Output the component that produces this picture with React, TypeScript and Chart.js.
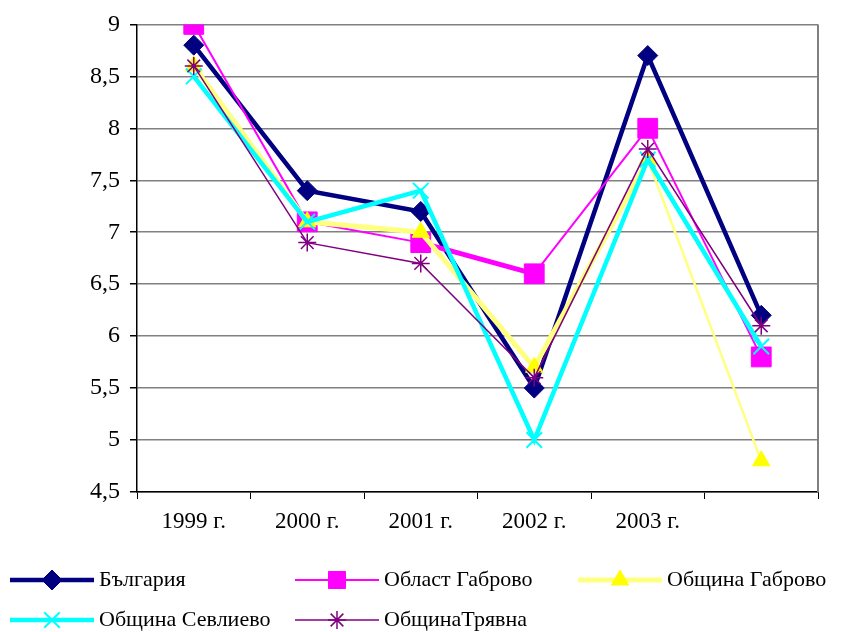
import React, { useEffect, useRef } from 'react';
import { Chart, registerables } from 'chart.js';
import { drawPoint } from 'chart.js/helpers';

Chart.register(...registerables);

const categories = ['1999 г.', '2000 г.', '2001 г.', '2002 г.', '2003 г.', ''];
const bulgaria = [8.8, 7.4, 7.2, 5.5, 8.7, 6.2];
const oblastGabrovo = [9.0, 7.1, 6.9, 6.6, 8.0, 5.8];
const obshtinaGabrovo = [8.6, 7.1, 7.0, 5.7, 7.7, 4.8];
const obshtinaSevlievo = [8.5, 7.1, 7.4, 5.0, 7.7, 5.9];
const obshtinaTryavna = [8.6, 6.9, 6.7, 5.6, 7.8, 6.1];
const seriesNames = ['България', 'Област Габрово', 'Община Габрово', 'Община Севлиево', 'ОбщинаТрявна'];
const yMin = 4.5;
const yMax = 9;
const yStep = 0.5;

const FONT = 'Liberation Serif, Times New Roman, serif';

type Style = {
  line: string;
  marker: string;
  pointStyle: any;
  radius: number;
  markerBorder: number;
  segWidths: number[];
  legendWidth: number;
};

const styles: Style[] = [
  { line: '#000080', marker: '#000080', pointStyle: 'rectRot', radius: 10, markerBorder: 1, segWidths: [4.5, 4.5, 4.5, 4.5, 4.5], legendWidth: 4.5 },
  { line: '#FF00FF', marker: '#FF00FF', pointStyle: 'rect', radius: 14, markerBorder: 1, segWidths: [2, 2, 5, 2, 2], legendWidth: 2 },
  { line: '#FFFF80', marker: '#FFFF00', pointStyle: 'triangle', radius: 10, markerBorder: 1, segWidths: [5, 5, 5, 5, 2.5], legendWidth: 5 },
  { line: '#00FFFF', marker: '#00FFFF', pointStyle: 'crossRot', radius: 11, markerBorder: 2, segWidths: [4.5, 4.5, 4.5, 4.5, 4.5], legendWidth: 4.5 },
  { line: '#800080', marker: '#800080', pointStyle: 'star', radius: 9, markerBorder: 1.5, segWidths: [1.5, 1.5, 1.5, 1.5, 1.5], legendWidth: 1.5 },
];

const seriesData = [bulgaria, oblastGabrovo, obshtinaGabrovo, obshtinaSevlievo, obshtinaTryavna];

const legendPos = [
  { x: 10, y: 580 },
  { x: 295, y: 580 },
  { x: 578, y: 580 },
  { x: 10, y: 620 },
  { x: 295, y: 620 },
];

const extrasPlugin = {
  id: 'extras',
  afterDraw(chart: any) {
    const ctx = chart.ctx as CanvasRenderingContext2D;
    const a = chart.chartArea;
    ctx.save();
    ctx.strokeStyle = '#808080';
    ctx.lineWidth = 2;
    ctx.beginPath();
    ctx.moveTo(a.right, a.top);
    ctx.lineTo(a.right, a.bottom);
    ctx.stroke();

    // legend
    seriesNames.forEach((name, i) => {
      const s = styles[i];
      const p = legendPos[i];
      ctx.strokeStyle = s.line;
      ctx.lineWidth = s.legendWidth;
      ctx.beginPath();
      ctx.moveTo(p.x, p.y);
      ctx.lineTo(p.x + 84, p.y);
      ctx.stroke();
      ctx.fillStyle = s.marker;
      ctx.strokeStyle = s.marker;
      ctx.lineWidth = s.markerBorder;
      drawPoint(ctx, { pointStyle: s.pointStyle, radius: s.pointStyle === 'rect' ? 12 : s.radius, rotation: 0, borderWidth: s.markerBorder }, p.x + 42, p.y);
      ctx.fillStyle = '#000';
      ctx.font = `22px ${FONT}`;
      ctx.textBaseline = 'middle';
      ctx.textAlign = 'left';
      ctx.fillText(name, p.x + 89, p.y);
    });
    ctx.restore();
  },
};

export default function App() {
  const ref = useRef<HTMLCanvasElement | null>(null);
  useEffect(() => {
    if (!ref.current) return;
    const chart = new Chart(ref.current, {
      type: 'line',
      data: {
        labels: categories,
        datasets: seriesNames.map((name, i) => {
          const s = styles[i];
          return {
            label: name,
            data: seriesData[i],
            borderColor: s.line,
            backgroundColor: s.marker,
            borderWidth: s.segWidths[0],
            pointStyle: s.pointStyle,
            pointRadius: s.radius,
            pointBackgroundColor: s.marker,
            pointBorderColor: s.marker,
            pointBorderWidth: s.markerBorder,
            fill: false,
            tension: 0,
            order: seriesNames.length - i,
            segment: {
              borderWidth: (c: any) => s.segWidths[c.p0DataIndex],
            },
          };
        }),
      },
      options: {
        responsive: false,
        animation: false,
        events: [],
        layout: { padding: { left: 0, right: 25, top: 24, bottom: 90 } },
        plugins: {
          legend: { display: false },
          tooltip: { enabled: false },
          title: { display: false },
        },
        scales: {
          x: {
            offset: true,
            grid: {
              offset: true,
              drawOnChartArea: false,
              drawTicks: true,
              tickLength: 7,
              tickColor: '#000',
              color: '#000',
            },
            border: { color: '#000', width: 1.5 },
            ticks: {
              color: '#000',
              font: { family: FONT, size: 23 },
              padding: 9,
              maxRotation: 0,
              autoSkip: false,
            },
            afterFit: (s: any) => {
              s.height = 50;
            },
          },
          y: {
            min: yMin,
            max: yMax,
            ticks: {
              stepSize: yStep,
              color: '#000',
              font: { family: FONT, size: 24 },
              padding: 10,
              callback: (v: any) => String(v).replace('.', ','),
            },
            grid: {
              color: '#808080',
              lineWidth: 1.5,
              tickColor: '#000',
              tickLength: 7,
            },
            border: { color: '#000', width: 1.5 },
            afterFit: (s: any) => {
              s.width = 137;
            },
          },
        },
      },
      plugins: [extrasPlugin],
    });
    return () => chart.destroy();
  }, []);
  return (
    <div style={{ position: 'absolute', left: 0, top: 0, width: 843, height: 632, background: '#fff' }}>
      <canvas ref={ref} width={843} height={632} style={{ display: 'block' }} />
    </div>
  );
}
